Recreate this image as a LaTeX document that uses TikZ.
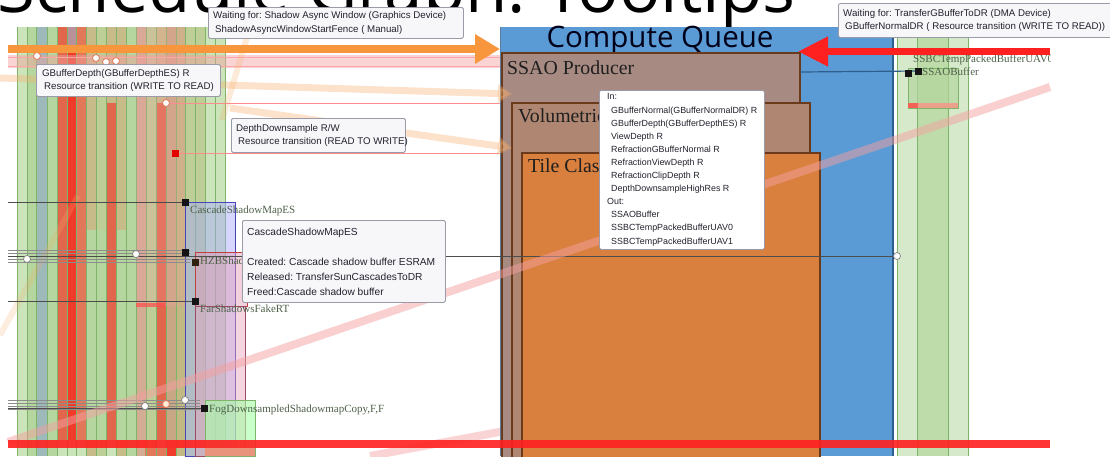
\documentclass[tikz,border=0pt]{standalone}
\usepackage{fontspec}
\usetikzlibrary{arrows.meta}
\newfontfamily\tipfont{Liberation Sans}
\newfontfamily\labfont{Liberation Serif}
\newfontfamily\headfont{Open Sans}
\frenchspacing

% palette
\definecolor{queueblue}{HTML}{5B9BD5}
\definecolor{queueedge}{HTML}{2E5E8C}
\definecolor{ssaofill}{HTML}{A78B82}
\definecolor{volfill}{HTML}{AE8672}
\definecolor{tilefill}{HTML}{D9803F}
\definecolor{taskedge}{HTML}{6A3A1A}
\definecolor{gA}{HTML}{CBE4BA}
\definecolor{gB}{HTML}{B5D69E}
\definecolor{gC}{HTML}{BDCF97}
\definecolor{steel}{HTML}{9DB9BA}
\definecolor{redor}{HTML}{E1664C}
\definecolor{hotred}{HTML}{F03B2A}
\definecolor{orred}{HTML}{E2785A}
\definecolor{purpg}{HTML}{B9919A}
\definecolor{tan}{HTML}{C7BB89}
\definecolor{pinktan}{HTML}{D2AC93}
\definecolor{brownt}{HTML}{C8A884}
\definecolor{olive}{HTML}{C2B884}
\definecolor{stripegreen}{HTML}{7DB46A}
\definecolor{labgreen}{HTML}{4F6249}
\definecolor{tipedge}{HTML}{9A9AA8}
\definecolor{tipfill}{HTML}{F7F7FA}
\definecolor{tiptext}{HTML}{22222E}
\definecolor{arroworange}{HTML}{F7963C}
\definecolor{arrowred}{HTML}{FF2020}
\definecolor{fadepink}{HTML}{F4A0A0}
\definecolor{fadeorange}{HTML}{F8AE6A}
\definecolor{rightgreen}{HTML}{D6EACB}
\definecolor{rightgreenB}{HTML}{BEDCAA}

\begin{document}
\begin{tikzpicture}[x=1pt,y=-1pt,
  tooltipframe/.style={draw=tipedge,fill=tipfill,rounded corners=1.5pt,line width=.8pt,
    anchor=north west,inner sep=0pt},
  tooltiptext/.style={anchor=west,inner sep=0pt,align=left,text=tiptext,
    font=\tipfont\fontsize{9.7}{13.5}\selectfont},
  blacksq/.style={rectangle,fill=black!92,minimum size=7pt,inner sep=0pt},
  hollowdot/.style={circle,fill=white,draw=black!50,line width=.7pt,minimum size=7pt,inner sep=0pt},
  warmdot/.style={circle,fill=white,draw=orred,line width=.8pt,minimum size=7pt,inner sep=0pt},
  gridline/.style={draw=black!70,line width=.6pt},
  bundleline/.style={draw=black!45,line width=.5pt},
  reslabel/.style={anchor=base west,inner sep=0pt,text=labgreen,font=\labfont\fontsize{11}{11}\selectfont},
  stripeline/.style={draw=stripegreen,line width=.6pt},
  taskbox/.style={draw=taskedge,line width=1.3pt},
  tasklabel/.style={anchor=base west,inner sep=0pt,text=black!88,font=\labfont\fontsize{19.8}{20}\selectfont},
  fadeband/.style={line width=8pt,line cap=butt},
]
\useasboundingbox (0,0) rectangle (1110,456);
\clip (0,0) rectangle (1110,456);
\fill[white] (0,0) rectangle (1110,456);

% slide heading, mostly above the visible area
\node[anchor=base west,inner sep=0pt,font=\headfont\fontsize{69}{69}\selectfont] (heading) at (-3,12) {Schedule Graph: Tooltips};

% ---------- graphics queue: resource columns ----------
\fill[gA] (17,27) rectangle (225,456);
\foreach \xa/\xb/\ya/\yb/\c in {
  17/27/27/456/gA, 27/36/27/456/gB, 36/47/27/456/steel, 47/57/27/456/gB,
  57/67/27/440/redor, 67/76/27/52/purpg, 67/76/52/440/hotred, 76/86/27/440/orred,
  86/96/27/456/tan, 96/106/27/456/gC, 106/116/27/103/tan, 106/116/103/440/redor,
  116/126/27/456/tan, 126/136/27/456/gB, 136/146/27/456/pinktan, 146/156/27/456/gC,
  156/166/27/103/tan, 156/166/103/440/redor, 166/176/27/456/brownt,
  176/185/27/456/olive, 185/205/27/456/gC, 205/225/27/456/gA}
  \fill[\c] (\xa,\ya) rectangle (\xb,\yb);
\fill[gB] (86,230) rectangle (106,440);
\fill[gB] (116,230) rectangle (136,440);
\fill[orred] (145,448) rectangle (166,456);
\fill[hotred] (166,448) rectangle (176,456);
\foreach \x in {17,27,36,47,57,67,76,86,96,106,116,126,136,146,156,166,176,185,195,205,215,225}
  \draw[stripeline] (\x,27) -- (\x,456);

% resource lifetimes
\fill[fadepink,opacity=.25] (136,27) rectangle (185,306);
\fill[red!70,opacity=.7] (136,303) rectangle (165,307);
\filldraw[fill=blue!35!white,fill opacity=.45,draw=blue!45!gray,line width=.7pt] (185,202) rectangle (235,456);
\filldraw[fill=purple!40!white,fill opacity=.45,draw=red!50!gray,line width=.7pt] (195,252) rectangle (247,306);
\filldraw[fill=purple!35!white,fill opacity=.45,draw=purple!40!gray,line width=.5pt] (195,306) rectangle (245,456);
\filldraw[fill=green!35!white,fill opacity=.6,draw=stripegreen,line width=.7pt] (205,400) rectangle (255,456);
\fill[orred!80] (205,448) rectangle (255,456);

% faint dependency bands
\fill[fadepink,opacity=.45] (8,55) rectangle (500,68);
\draw[red!35,line width=.5pt] (8,57) -- (500,57);
\draw[red!35,line width=.5pt] (8,66) -- (500,66);
\draw[fadeorange,opacity=.25,line width=6pt] (250,27) -- (222,120);
\draw[fadeorange,opacity=.22,line width=6pt] (0,335) -- (78,196);
\draw[fadepink,opacity=.45,fadeband] (370,456) -- (510,430);

% ---------- compute queue ----------
\fill[queueblue] (500,27) rectangle (893,456);
\draw[queueedge,line width=2pt] (893,27) -- (893,456);
\draw[queueedge!80,line width=.7pt] (500,27) -- (500,456);
\node[anchor=base,inner sep=0pt,font=\headfont\fontsize{29.5}{30}\selectfont,text=black!90!blue] (cqlabel) at (660,47) {Compute Queue};

\filldraw[fill=ssaofill,taskbox] (502,53) rectangle (800,460);
\node[tasklabel] (ssaolabel) at (507,74) {SSAO Producer};
\filldraw[fill=volfill,taskbox] (512,103) rectangle (810,460);
\node[tasklabel] (vollabel) at (518,122) {Volumetric};
\filldraw[fill=tilefill,taskbox] (522,153) rectangle (820,460);
\node[tasklabel] (tilelabel) at (528,172) {Tile Classification};

% ---------- DMA queue resources ----------
\fill[rightgreen] (897,27) rectangle (968,456);
\fill[rightgreenB] (917,27) rectangle (948,456);
\foreach \x in {897,917,948,968}
  \draw[stripeline] (\x,27) -- (\x,456);
\filldraw[fill=gB,fill opacity=.7,draw=stripegreen,line width=.7pt] (908,68) rectangle (958,108);
\fill[orred!70] (908,103) rectangle (958,108);
\fill[hotred!80] (908,103) rectangle (918,108);

% ---------- resource rows ----------
\coordinate (csmL) at (8,202);
\coordinate (csmP) at (185,202);
\draw[gridline] (csmL) -- (csmP);

\foreach \yy in {250,253,259,262}
  \draw[bundleline] (8,\yy) -- (190,\yy);
\coordinate (hzbL) at (8,256);
\coordinate (hzbR) at (897,256);
\coordinate (hzbP) at (185,252);
\coordinate (hzbQ) at (195,262);
\draw[gridline] (hzbL) -- (hzbR);

\coordinate (farL) at (8,301);
\coordinate (farP) at (195,301);
\draw[gridline] (farL) -- (farP);

\foreach \yy in {400,403,406,409}
  \draw[bundleline] (8,\yy) -- (200,\yy);
\coordinate (fogL) at (8,408);
\coordinate (fogP) at (204,408);
\draw[gridline] (fogL) -- (fogP);

\coordinate (gbdP) at (166,103);
\coordinate (gbdR) at (500,103);
\draw[red!45,line width=.7pt] (gbdP) -- (gbdR);
\coordinate (ddsP) at (175,153);
\coordinate (ddsR) at (500,153);
\draw[red!45,line width=.7pt] (ddsP) -- (ddsR);

\coordinate (ssaoL) at (800,72);
\coordinate (uavP) at (908,73);
\coordinate (ssaoP) at (918,71);
\draw[queueedge,line width=1.2pt] (ssaoL) -- (ssaoP);

% markers
\node[blacksq] (sqcsm) at (csmP) {};
\node[blacksq] (sqhzbA) at (hzbP) {};
\node[blacksq,fill=black!75!brown] (sqhzbB) at (hzbQ) {};
\node[blacksq] (sqfar) at (farP) {};
\node[blacksq] (sqfog) at (fogP) {};
\node[blacksq] (squav) at (uavP) {};
\node[blacksq] (sqssao) at (ssaoP) {};
\node[blacksq,fill=red!90!black] (sqdds) at (ddsP) {};
\node[hollowdot] (dA) at (27,259) {};
\node[hollowdot] (dB) at (136,254) {};
\node[hollowdot] (dC) at (145,406) {};
\node[warmdot,fill=orange!15] (dD) at (166,404) {};
\node[hollowdot] (dE) at (185,400) {};
\node[hollowdot] (dF) at (hzbR) {};
\node[warmdot] (dG) at (37,56) {};
\node[warmdot] (dH) at (96,58) {};
\node[warmdot] (dI) at (106,62) {};
\node[warmdot] (dJ) at (116,61) {};
\node[warmdot] (dK) at (gbdP) {};

% resource names
\node[reslabel] (lcsm) at (190,213) {CascadeShadowMapES};
\node[reslabel] (lhzb) at (200,264) {HZBShadow};
\node[reslabel] (lfar) at (200,312) {FarShadowsFakeRT};
\node[reslabel] (lfog) at (209,412) {FogDownsampledShadowmapCopy,F,F};
\begin{scope}
  \clip (0,0) rectangle (1050,456);
  \node[reslabel] (luav) at (913,62) {SSBCTempPackedBufferUAV0};
  \node[reslabel] (lssao) at (922,75) {SSAOBuffer};
\end{scope}

% cross-queue dependency bands
\draw[fadeorange,opacity=.35,line width=7pt,-{Triangle[length=14pt,width=18pt]}] (0,78) -- (512,94);
\draw[fadeorange,opacity=.35,line width=7pt,-{Triangle[length=14pt,width=18pt]}] (230,108) -- (512,148);
\coordinate (pinkA) at (8,442);
\coordinate (pinkB) at (1050,87);
\draw[fadepink,opacity=.5,fadeband] (pinkA) -- (pinkB);

% bottom sync bar
\coordinate (barL) at (8,444);
\coordinate (barR) at (1050,444);
\draw[arrowred,line width=8pt,opacity=.9] (barL) -- (barR);

% fences
\coordinate (fenceA) at (8,49);
\coordinate (fenceB) at (1050,51.5);
\draw[arroworange,line width=8pt,-{Triangle[length=25pt,width=28pt]}] (fenceA) -- (500,49);
\draw[arrowred,line width=7pt,-{Triangle[length=30pt,width=28pt]}] (fenceB) -- (798,51.5);

% ---------- tooltips ----------
\node[tooltipframe,minimum width=255pt,minimum height=31pt] (tipasync) at (208,7) {};
\node[tooltiptext] (tipasynctext) at ([xshift=5pt]tipasync.west)
  {Waiting for: Shadow Async Window (Graphics Device)\\\hspace*{2pt}ShadowAsyncWindowStartFence ( Manual)};

\node[tooltipframe,minimum width=184pt,minimum height=32pt] (tipgbd) at (36,64) {};
\node[tooltiptext] (tipgbdtext) at ([xshift=6pt]tipgbd.west)
  {GBufferDepth(GBufferDepthES) R\\\hspace*{2pt}Resource transition (WRITE TO READ)};

\node[tooltipframe,minimum width=174pt,minimum height=34pt] (tipdds) at (231,118) {};
\node[tooltiptext] (tipddstext) at ([xshift=5pt]tipdds.west)
  {DepthDownsample R/W\\\hspace*{2pt}Resource transition (READ TO WRITE)};

\node[tooltipframe,minimum width=203pt,minimum height=82pt] (tipcsm) at (242,220) {};
\node[tooltiptext,font=\tipfont\fontsize{10.2}{15}\selectfont] (tipcsmtext) at ([xshift=5pt]tipcsm.west)
  {CascadeShadowMapES\\\mbox{}\\Created: Cascade shadow buffer ESRAM\\Released: TransferSunCascadesToDR\\Freed:Cascade shadow buffer};

\node[tooltipframe,fill=white,minimum width=165pt,minimum height=159pt] (tipssao) at (599,90) {};
\node[tooltiptext,font=\tipfont\fontsize{8.9}{13.1}\selectfont] (tipssaotext) at ([xshift=8pt]tipssao.west)
  {In:\\
   \hspace*{4pt}GBufferNormal(GBufferNormalDR) R\\
   \hspace*{4pt}GBufferDepth(GBufferDepthES) R\\
   \hspace*{4pt}ViewDepth R\\
   \hspace*{4pt}RefractionGBufferNormal R\\
   \hspace*{4pt}RefractionViewDepth R\\
   \hspace*{4pt}RefractionClipDepth R\\
   \hspace*{4pt}DepthDownsampleHighRes R\\
   Out:\\
   \hspace*{4pt}SSAOBuffer\\
   \hspace*{4pt}SSBCTempPackedBufferUAV0\\
   \hspace*{4pt}SSBCTempPackedBufferUAV1};

\node[tooltipframe,minimum width=277pt,minimum height=34pt] (tipdma) at (838,3) {};
\node[tooltiptext] (tipdmatext) at ([xshift=5pt]tipdma.west)
  {Waiting for: TransferGBufferToDR (DMA Device)\\\hspace*{2pt}GBufferNormalDR ( Resource transition (WRITE TO READ))};
\end{tikzpicture}
\end{document}
